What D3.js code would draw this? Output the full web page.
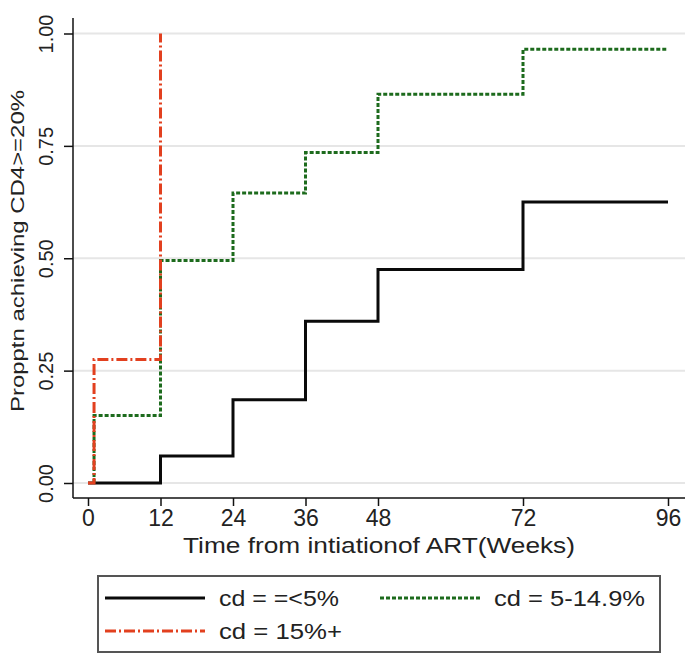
<!DOCTYPE html>
<html>
<head>
<meta charset="utf-8">
<script src="https://cdn.jsdelivr.net/npm/d3@7"></script>
<style>
  html, body { margin: 0; padding: 0; background: #fff; }
  svg { display: block; }
  text { font-family: "Liberation Sans", Arial, sans-serif; fill: #222; }
</style>
</head>
<body>
<script>
// ---- data ----
const xTicks = [0, 12, 24, 36, 48, 72, 96];
const yTicks = [0, 0.25, 0.5, 0.75, 1.0];
const yTickLabels = ["0.00", "0.25", "0.50", "0.75", "1.00"];

const weeksLow = [0, 12, 24, 36, 48, 72, 96];
const propLow  = [0, 0.06, 0.185, 0.36, 0.475, 0.625, 0.625];

const weeksMid = [1, 1, 12, 24, 36, 48, 72, 96];
const propMid  = [0, 0.15, 0.495, 0.645, 0.735, 0.865, 0.965, 0.965];

const weeksHigh = [0, 1, 12, 12];
const propHigh  = [0, 0.275, 1.0, 1.0];

const seriesNames = ["cd = =<5%", "cd = 5-14.9%", "cd = 15%+"];
const xTitle = "Time from intiationof ART(Weeks)";
const yTitle = "Propptn achieving CD4>=20%";

// ---- chart ----
const W = 688, H = 656;
const svg = d3.select("body").append("svg").attr("width", W).attr("height", H);

const x = d3.scaleLinear().domain([0, 96]).range([88, 668]);
const y = d3.scaleLinear().domain([0, 1]).range([483, 33.5]);
const axisX = 73, axisY = 498, plotRight = 685, plotTop = 18;

// gridlines
svg.append("g").selectAll("line").data(yTicks).join("line")
  .attr("x1", axisX).attr("x2", plotRight)
  .attr("y1", d => y(d)).attr("y2", d => y(d))
  .attr("stroke", "#e6e6e6").attr("stroke-width", 2);

// y axis
const yAxis = d3.axisLeft(y).tickValues(yTicks).tickSize(9).tickFormat((d, i) => yTickLabels[i]);
const gy = svg.append("g").attr("transform", `translate(${axisX},0)`).call(yAxis);
gy.select(".domain").remove();
gy.selectAll(".tick line").attr("stroke", "#111").attr("stroke-width", 1.5);
gy.selectAll(".tick text")
  .attr("font-size", 20).attr("fill", "#222")
  .attr("transform", "rotate(-90)")
  .attr("x", 0).attr("y", -20).attr("dy", 0)
  .attr("text-anchor", "middle");
svg.append("line").attr("x1", axisX).attr("x2", axisX).attr("y1", plotTop).attr("y2", axisY)
  .attr("stroke", "#111").attr("stroke-width", 1.5);

// x axis
const xAxis = d3.axisBottom(x).tickValues(xTicks).tickSize(8).tickFormat(d3.format("d"));
const gx = svg.append("g").attr("transform", `translate(0,${axisY})`).call(xAxis);
gx.select(".domain").remove();
gx.selectAll(".tick line").attr("stroke", "#111").attr("stroke-width", 1.5);
gx.selectAll(".tick text").attr("font-size", 23).attr("fill", "#222").attr("y", 12).attr("dy", "0.71em");
svg.append("line").attr("x1", axisX).attr("x2", plotRight).attr("y1", axisY).attr("y2", axisY)
  .attr("stroke", "#111").attr("stroke-width", 1.5);

// titles
svg.append("text").attr("x", 379).attr("y", 553).attr("text-anchor", "middle")
  .attr("font-size", 22).attr("textLength", 392).attr("lengthAdjust", "spacingAndGlyphs").text(xTitle);
svg.append("text").attr("transform", "translate(24,251) rotate(-90)").attr("text-anchor", "middle")
  .attr("font-size", 19).attr("textLength", 322).attr("lengthAdjust", "spacingAndGlyphs").text(yTitle);

// lines
const mk = (xs, ys) => xs.map((v, i) => [v, ys[i]]);
const step = d3.line().x(d => x(d[0])).y(d => y(d[1])).curve(d3.curveStepAfter);

const styles = [
  { data: mk(weeksLow, propLow), color: "#0a0a0a", dash: null, width: 3 },
  { data: mk(weeksMid, propMid), color: "#1d6b1d", dash: "4,2", width: 3 },
  { data: mk(weeksHigh, propHigh), color: "#e2401f", dash: "11,3,2,3", width: 3 }
];
svg.append("g").selectAll("path").data(styles).join("path")
  .attr("d", d => step(d.data))
  .attr("fill", "none")
  .attr("stroke", d => d.color)
  .attr("stroke-width", d => d.width)
  .attr("stroke-dasharray", d => d.dash);

// legend
const lg = svg.append("g");
lg.append("rect").attr("x", 98).attr("y", 576).attr("width", 562).attr("height", 76)
  .attr("fill", "#fff").attr("stroke", "#555").attr("stroke-width", 2);
const legendItems = [
  { name: seriesNames[0], s: styles[0], lx: 105, ly: 598, tw: 120 },
  { name: seriesNames[1], s: styles[1], lx: 380, ly: 598, tw: 151 },
  { name: seriesNames[2], s: styles[2], lx: 105, ly: 631, tw: 123 }
];
const li = lg.selectAll("g.item").data(legendItems).join("g").attr("class", "item");
li.append("line")
  .attr("x1", d => d.lx).attr("x2", d => d.lx + 100)
  .attr("y1", d => d.ly).attr("y2", d => d.ly)
  .attr("stroke", d => d.s.color).attr("stroke-width", 3)
  .attr("stroke-dasharray", d => d.s.dash);
li.append("text")
  .attr("x", d => d.lx + 114).attr("y", d => d.ly + 8)
  .attr("font-size", 22)
  .attr("textLength", d => d.tw).attr("lengthAdjust", "spacingAndGlyphs")
  .text(d => d.name);
</script>
</body>
</html>
